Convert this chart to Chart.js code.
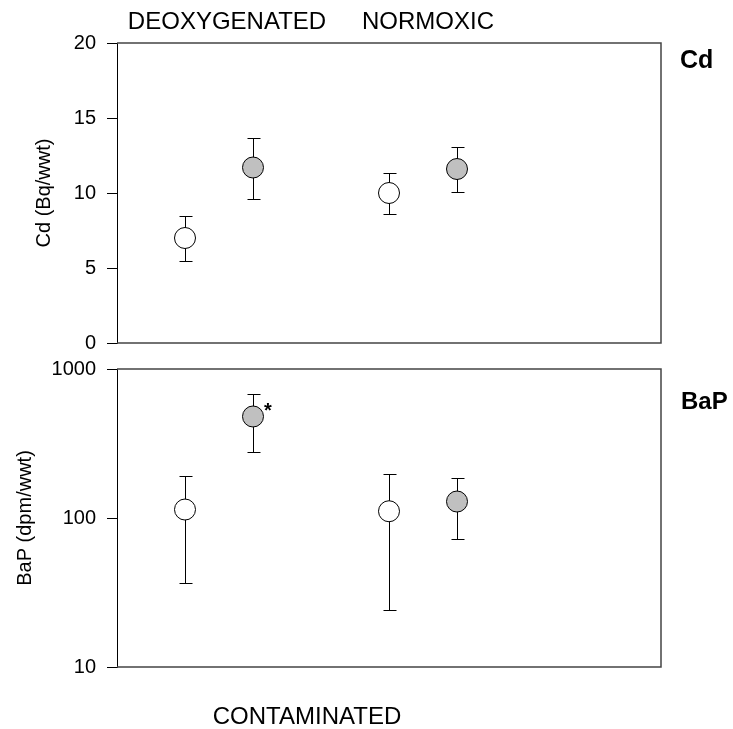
<!DOCTYPE html>
<html>
<head>
<meta charset="utf-8">
<title>Cd and BaP</title>
<script src="https://cdn.jsdelivr.net/npm/chart.js@4.4.0/dist/chart.umd.min.js"></script>
<style>
  body { margin: 0; background: #fff; }
  #wrap { position: relative; width: 733px; height: 729px; }
  #cdBox { position: absolute; left: 0; top: 0; width: 733px; height: 366px; }
  #bapBox { position: absolute; left: 0; top: 346px; width: 733px; height: 383px; }
</style>
</head>
<body>
<div id="wrap">
  <div id="cdBox"><canvas id="cdChart"></canvas></div>
  <div id="bapBox"><canvas id="bapChart"></canvas></div>
</div>
<script>
// positions along x: 1,2 = deoxygenated, 4,5 = normoxic
const groupX = [1, 2, 4, 5];
const fills = ['#ffffff', '#c0c0c0', '#ffffff', '#c0c0c0'];

// Cd (Bq/wwt)
const cdMean = [7.0, 11.7, 10.0, 11.6];
const cdLow = [5.5, 9.6, 8.6, 10.1];
const cdHigh = [8.5, 13.7, 11.3, 13.1];
const cdTicks = [0, 5, 10, 15, 20];

// BaP (dpm/wwt), log scale
const bapMean = [114, 480, 111, 129];
const bapLow = [36.5, 277, 24.3, 72.3];
const bapHigh = [190, 681, 198, 185];
const bapTicks = [10, 100, 1000];

const FONT = 'Liberation Sans, Arial, Helvetica, sans-serif';
Chart.defaults.font.family = FONT;
Chart.defaults.color = '#000';

// whiskers drawn under the circles
const errorBars = {
  id: 'errorBars',
  beforeDatasetsDraw(chart) {
    const { ctx, scales: { x, y } } = chart;
    const ds = chart.data.datasets[0];
    ctx.save();
    ctx.strokeStyle = '#000';
    ctx.lineWidth = 1;
    ds.errLow.forEach((lo, i) => {
      const px = Math.round(x.getPixelForValue(groupX[i])) + 0.5;
      const y1 = Math.round(y.getPixelForValue(lo)) + 0.5;
      const y2 = Math.round(y.getPixelForValue(ds.errHigh[i])) + 0.5;
      ctx.beginPath();
      ctx.moveTo(px, y1); ctx.lineTo(px, y2);
      ctx.moveTo(px - 6, y1); ctx.lineTo(px + 7, y1);
      ctx.moveTo(px - 6, y2); ctx.lineTo(px + 7, y2);
      ctx.stroke();
    });
    ctx.restore();
  }
};

// top, right and bottom edges of the plot box
const frame = {
  id: 'frame',
  afterDraw(chart) {
    const { ctx, chartArea: a } = chart;
    ctx.save();
    ctx.strokeStyle = '#444';
    ctx.lineWidth = 1.5;
    ctx.beginPath();
    ctx.moveTo(a.left, a.top); ctx.lineTo(a.right, a.top);
    ctx.lineTo(a.right, a.bottom); ctx.lineTo(a.left, a.bottom);
    ctx.stroke();
    ctx.restore();
  }
};

// free text around the panels
function textLabels(list) {
  return {
    id: 'textLabels',
    afterDraw(chart) {
      const ctx = chart.ctx;
      ctx.save();
      ctx.fillStyle = '#000';
      ctx.textBaseline = 'middle';
      list.forEach(t => {
        ctx.font = (t.bold ? 'bold ' : '') + t.size + 'px ' + FONT;
        ctx.textAlign = t.align || 'center';
        let px = t.x, py = t.y;
        if (t.point !== undefined) {
          const p = chart.getDatasetMeta(0).data[t.point];
          px = p.x + t.dx; py = p.y + t.dy;
        }
        ctx.fillText(t.text, px, py);
      });
      ctx.restore();
    }
  };
}

function yAxis(extra) {
  return Object.assign({
    afterFit: s => { s.width = 117; },
    border: { display: true, color: '#000', width: 1 },
    grid: { drawOnChartArea: false, drawTicks: true, tickLength: 10, color: '#000' },
    ticks: { color: '#000', font: { size: 20 }, padding: 11, callback: v => String(v) }
  }, extra);
}

function dataset(means, low, high) {
  return {
    data: groupX.map((x, i) => ({ x: x, y: means[i] })),
    errLow: low,
    errHigh: high,
    pointRadius: 10.5,
    pointHoverRadius: 10.5,
    pointBackgroundColor: fills,
    pointBorderColor: '#000',
    pointBorderWidth: 1,
    showLine: false
  };
}

const common = {
  responsive: true,
  maintainAspectRatio: false,
  animation: false,
  plugins: { legend: { display: false }, tooltip: { enabled: false } }
};

new Chart(document.getElementById('cdChart'), {
  type: 'scatter',
  data: { datasets: [dataset(cdMean, cdLow, cdHigh)] },
  options: Object.assign({}, common, {
    layout: { padding: { top: 43, right: 72, bottom: 0, left: 0 } },
    scales: {
      x: { type: 'linear', min: 0, max: 8, display: false },
      y: yAxis({
        min: 0, max: 20,
        afterBuildTicks: s => { s.ticks = cdTicks.map(v => ({ value: v })); },
        title: { display: true, text: 'Cd (Bq/wwt)', color: '#000', font: { size: 20 }, padding: { top: 32, bottom: 0 } }
      })
    }
  }),
  plugins: [errorBars, frame, textLabels([
    { text: 'DEOXYGENATED', x: 227, y: 22, size: 24 },
    { text: 'NORMOXIC', x: 428, y: 22, size: 24 },
    { text: 'Cd', x: 680, y: 61, size: 25, bold: true, align: 'left' }
  ])]
});

new Chart(document.getElementById('bapChart'), {
  type: 'scatter',
  data: { datasets: [dataset(bapMean, bapLow, bapHigh)] },
  options: Object.assign({}, common, {
    layout: { padding: { top: 0, right: 72, bottom: 62, left: 0 } },
    scales: {
      x: { type: 'linear', min: 0, max: 8, display: false },
      y: yAxis({
        type: 'logarithmic', min: 10, max: 1000,
        afterBuildTicks: s => { s.ticks = bapTicks.map(v => ({ value: v })); },
        title: { display: true, text: 'BaP (dpm/wwt)', color: '#000', font: { size: 20 }, padding: { top: 13, bottom: 0 } }
      })
    }
  }),
  plugins: [errorBars, frame, textLabels([
    { text: '*', point: 1, dx: 15, dy: -5, size: 20, bold: true, align: 'center' },
    { text: 'BaP', x: 681, y: 56, size: 24, bold: true, align: 'left' },
    { text: 'CONTAMINATED', x: 307, y: 371, size: 24 }
  ])]
});
</script>
</body>
</html>
